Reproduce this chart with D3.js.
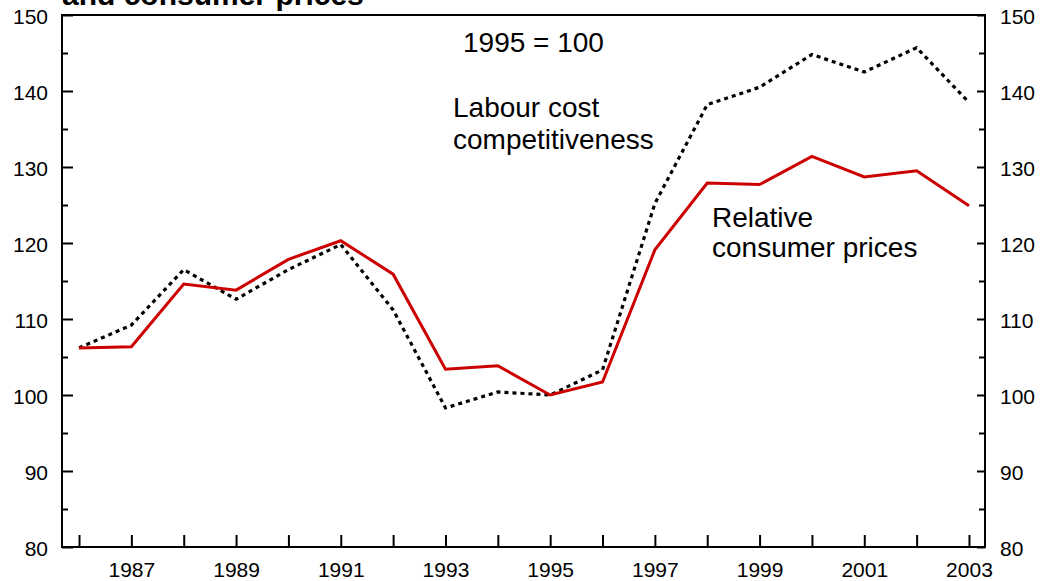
<!DOCTYPE html>
<html>
<head>
<meta charset="utf-8">
<script src="https://cdn.jsdelivr.net/npm/d3@7"></script>
<style>
  html, body { margin: 0; padding: 0; background: #fff; }
  svg { display: block; font-family: "Liberation Sans", Arial, Helvetica, sans-serif; }
</style>
</head>
<body>
<svg id="chart" width="1047" height="581"></svg>
<script>
const years = [1986,1987,1988,1989,1990,1991,1992,1993,1994,1995,1996,1997,1998,1999,2000,2001,2002,2003];
const relativeConsumerPrices = [106.2,106.35,114.6,113.8,117.85,120.3,115.9,103.4,103.85,100.0,101.7,119.1,127.9,127.7,131.4,128.7,129.5,124.9];
const labourCostCompetitiveness = [106.2,109.2,116.5,112.6,116.5,119.8,111.2,98.3,100.4,100.0,103.3,125.2,138.2,140.5,144.8,142.5,145.7,138.5];
const yMajorTicks = [80,90,100,110,120,130,140,150];
const yMinorTicks = [85,95,105,115,125,135,145];
const titleText = "and consumer prices";
const baseNote = "1995 = 100";
const labourLabel = ["Labour cost", "competitiveness"];
const priceLabel = ["Relative", "consumer prices"];

(function () {
const svg = d3.select("#chart");
const pL = 62, pR = 985, pT = 15, pB = 547;

const x = d3.scaleLinear().domain([1985.675, 2003.306]).range([pL, pR]);
const y = d3.scaleLinear().domain([80, 150]).range([pB, pT]);

// title (partly cut off)
svg.append("text")
  .attr("x", pL).attr("y", 5)
  .attr("font-size", 30).attr("font-weight", "bold")
  .attr("fill", "#000")
  .text(titleText);

// lines
const line = (vals) => d3.line().x((d, i) => x(years[i])).y(d => y(d))(vals);

svg.append("path")
  .attr("d", line(labourCostCompetitiveness))
  .attr("fill", "none").attr("stroke", "#000")
  .attr("stroke-width", 3.2)
  .attr("stroke-dasharray", "4,4");

svg.append("path")
  .attr("d", line(relativeConsumerPrices))
  .attr("fill", "none").attr("stroke", "#cc0000")
  .attr("stroke-width", 3)
  .attr("stroke-linejoin", "miter");

// axes
function style(g, fs) {
  g.select(".domain").remove();
  g.selectAll(".tick line").attr("stroke", "#000").attr("stroke-width", 2);
  g.selectAll(".tick text").attr("font-size", fs).attr("fill", "#000")
    .attr("font-family", "Liberation Sans, Arial, sans-serif");
}

// left
svg.append("g").attr("transform", `translate(${pL},0)`)
  .call(d3.axisLeft(y).tickValues(yMajorTicks).tickSize(-11).tickPadding(14).tickFormat(d3.format("d")))
  .call(g => style(g, 21))
  .call(g => g.selectAll(".tick text").attr("dy", "0.42em"));
svg.append("g").attr("transform", `translate(${pL},0)`)
  .call(d3.axisLeft(y).tickValues(yMinorTicks).tickSize(-6).tickFormat(""))
  .call(g => style(g, 21));

// right
svg.append("g").attr("transform", `translate(${pR},0)`)
  .call(d3.axisRight(y).tickValues(yMajorTicks).tickSize(-8).tickPadding(15).tickFormat(d3.format("d")))
  .call(g => style(g, 21))
  .call(g => g.selectAll(".tick text").attr("dy", "0.42em"));
svg.append("g").attr("transform", `translate(${pR},0)`)
  .call(d3.axisRight(y).tickValues(yMinorTicks).tickSize(-6).tickFormat(""))
  .call(g => style(g, 21));

// bottom
svg.append("g").attr("transform", `translate(0,${pB})`)
  .call(d3.axisBottom(x).tickValues(years).tickSize(-12).tickPadding(15)
    .tickFormat(d => (d % 2 === 1 ? String(d) : "")))
  .call(g => style(g, 21));

// frame
svg.append("rect")
  .attr("x", pL).attr("y", pT)
  .attr("width", pR - pL).attr("height", pB - pT)
  .attr("fill", "none").attr("stroke", "#000").attr("stroke-width", 2);

// annotations
svg.append("text").attr("x", 463).attr("y", 52)
  .attr("font-size", 28).attr("fill", "#000").text(baseNote);

const lab = svg.append("text").attr("font-size", 28).attr("fill", "#000");
labourLabel.forEach((t, i) => lab.append("tspan").attr("x", 453).attr("y", 117 + i * 31.5).text(t));

const pr = svg.append("text").attr("font-size", 28).attr("fill", "#000");
priceLabel.forEach((t, i) => pr.append("tspan").attr("x", 712).attr("y", 227 + i * 30).text(t));
})();
</script>
</body>
</html>
